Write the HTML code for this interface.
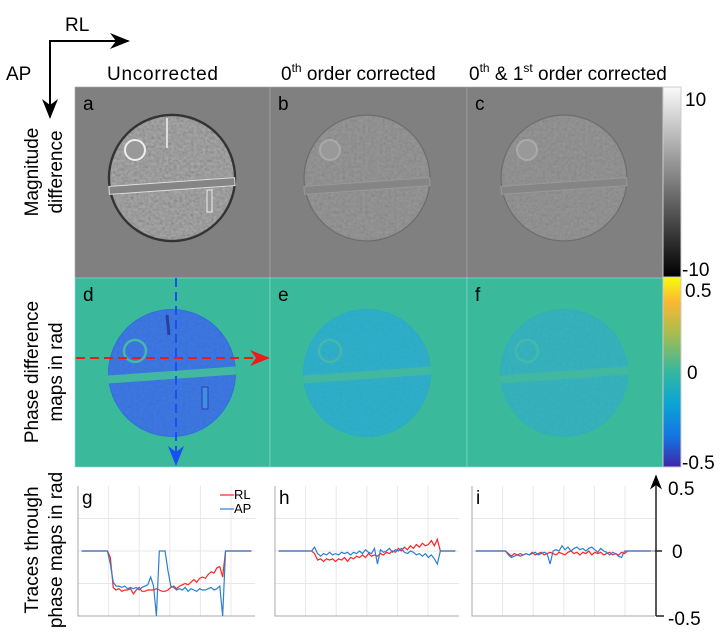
<!DOCTYPE html>
<html><head><meta charset="utf-8">
<style>
body{margin:0;background:#fff;}
svg{display:block;font-family:"Liberation Sans",sans-serif;}
</style></head>
<body>
<svg id="fig" width="724" height="644" viewBox="0 0 724 644">
<defs>
<filter id="noise" x="0" y="0" width="100%" height="100%">
<feTurbulence type="fractalNoise" baseFrequency="0.35" numOctaves="2" seed="3" result="t"/>
<feColorMatrix type="saturate" values="0"/>
<feComponentTransfer><feFuncA type="linear" slope="0" intercept="0.35"/></feComponentTransfer>
<feComposite in2="SourceGraphic" operator="in"/>
</filter>
<linearGradient id="gray" x1="0" y1="0" x2="0" y2="1"><stop offset="0" stop-color="#fafafa"/><stop offset="1" stop-color="#000"/></linearGradient>
<linearGradient id="parula" x1="0" y1="0" x2="0" y2="1">
<stop offset="0" stop-color="#f9fb0e"/><stop offset="0.13" stop-color="#fbb832"/><stop offset="0.3" stop-color="#a6bd4f"/>
<stop offset="0.5" stop-color="#33b7a0"/><stop offset="0.67" stop-color="#0ca3d6"/><stop offset="0.85" stop-color="#1670e0"/><stop offset="1" stop-color="#3e26a8"/></linearGradient>
<marker id="ah" markerWidth="10" markerHeight="10" refX="9" refY="5" orient="auto"><path d="M0,1 L10,5 L0,9 L3,5 Z" fill="#000"/></marker>
<marker id="ahb" markerWidth="10" markerHeight="10" refX="9" refY="5" orient="auto"><path d="M0,1 L10,5 L0,9 L3,5 Z" fill="#1a4ff0"/></marker>
<marker id="ahr" markerWidth="10" markerHeight="10" refX="9" refY="5" orient="auto"><path d="M0,1 L10,5 L0,9 L3,5 Z" fill="#f01a1a"/></marker>
</defs>

<text x="65" y="31" font-size="19">RL</text>
<text x="6" y="80" font-size="19">AP</text>
<polyline points="50,115 50,41 126,41" fill="none" stroke="#000" stroke-width="2"/>
<line x1="50" y1="41" x2="128" y2="41" stroke="#000" stroke-width="2" marker-end="url(#ah)"/>
<line x1="50" y1="41" x2="50" y2="117" stroke="#000" stroke-width="2" marker-end="url(#ah)"/>

<text x="107" y="80" font-size="19" textLength="111">Uncorrected</text>
<text x="281" y="80" font-size="19">0<tspan font-size="12" dy="-8">th</tspan><tspan dy="8"> order corrected</tspan></text>
<text x="469" y="80" font-size="19">0<tspan font-size="12" dy="-8">th</tspan><tspan dy="8"> &amp; 1</tspan><tspan font-size="12" dy="-8">st</tspan><tspan dy="8"> order corrected</tspan></text>

<text transform="translate(38,172) rotate(-90)" text-anchor="middle" font-size="19"><tspan x="0" y="0">Magnitude</tspan><tspan x="0" y="24">difference</tspan></text>
<text transform="translate(38,372) rotate(-90)" text-anchor="middle" font-size="19"><tspan x="0" y="0">Phase difference</tspan><tspan x="0" y="24">maps in rad</tspan></text>
<text transform="translate(38,550) rotate(-90)" text-anchor="middle" font-size="19"><tspan x="0" y="0">Traces through</tspan><tspan x="0" y="24">phase maps in rad</tspan></text>

<g id="panels"></g>

<rect x="663" y="87" width="18" height="190" fill="url(#gray)" stroke="#ccc"/>
<rect x="663" y="277" width="18" height="190" fill="url(#parula)" stroke="#ccc"/>
<text x="685" y="106" font-size="19">10</text>
<text x="682" y="276" font-size="19">-10</text>
<text x="685" y="297" font-size="19">0.5</text>
<text x="687" y="379" font-size="19">0</text>
<text x="682" y="469" font-size="19">-0.5</text>

<line x1="656" y1="616" x2="656" y2="476" stroke="#222" stroke-width="1.5" marker-end="url(#ah)"/>
<line x1="656" y1="616" x2="664" y2="616" stroke="#222" stroke-width="1.5"/>
<line x1="652" y1="551" x2="662" y2="551" stroke="#222" stroke-width="1.5"/>
<text x="668" y="495" font-size="19">0.5</text>
<text x="672" y="558" font-size="19">0</text>
<text x="668" y="625" font-size="19">-0.5</text>

<g id="traces"></g>
</svg>
<script>
const NS="http://www.w3.org/2000/svg";
function mk(tag,attrs,parent){const e=document.createElementNS(NS,tag);for(const k in attrs)e.setAttribute(k,attrs[k]);parent.appendChild(e);return e;}
const P=document.getElementById('panels');
const cols=[75,270,467];
const magLetters=['a','b','c'], phLetters=['d','e','f'];
const magContrast=[1,0.55,0.5];
const phDisk=['#2f6ee0','#27acc8','#2eb0bb'];
for(let i=0;i<3;i++){
  const x0=cols[i], w=(i==2?196:(i==0?195:197));
  const cx=x0+97, cy=178, r=63;
  let g=mk('g',{},P);
  
  
  mk('rect',{x:x0,y:87,width:w,height:191,fill:'#808080',stroke:'#aaa','stroke-width':0.6},g);
  const c=magContrast[i];
  mk('circle',{cx:cx,cy:cy,r:r,fill:i==0?'#8a8a8a':'#868686',stroke:i==0?'#333':'#6a6a6a','stroke-width':i==0?2.5:1},g);
  mk('circle',{cx:cx,cy:cy,r:r-1,fill:'#000',filter:'url(#noise)',opacity:c},g);
  mk('rect',{x:cx-63,y:cy+4,width:126,height:8,fill:'#858585',stroke:i==0?'#ddd':'#999','stroke-width':1,transform:`rotate(-4 ${cx} ${cy+8})`},g);
  mk('circle',{cx:cx-37,cy:cy-28,r:10,fill:'#999',stroke:i==0?'#eee':'#aaa','stroke-width':2},g);
  if(i==0){mk('rect',{x:cx+35,y:cy+12,width:5,height:22,fill:'#999',stroke:'#eee'},g);
  mk('line',{x1:cx-5,y1:cy-60,x2:cx-5,y2:cy-30,stroke:'#ddd','stroke-width':2},g);}
  mk('text',{x:x0+8,y:110,'font-size':19,fill:'#000'},g).textContent=magLetters[i];
  let h=mk('g',{},P);
  
  
  mk('rect',{x:x0,y:278,width:w,height:189,fill:'#3bb99b',stroke:'#8dd','stroke-width':0.6},h);
  const py=373;
  mk('circle',{cx:cx,cy:py,r:64,fill:phDisk[i]},h);
  mk('circle',{cx:cx,cy:py,r:63,fill:'#000',filter:'url(#noise)',opacity:i==0?0.25:0.15},h);
  mk('rect',{x:cx-64,y:py-2,width:128,height:8,fill:'#42b8a0',transform:`rotate(-4 ${cx} ${py+2})`},h);
  mk('circle',{cx:cx-37,cy:py-22,r:11,fill:'none',stroke:'#45b8a8','stroke-width':2.5},h);
  if(i==0){mk('rect',{x:cx+30,y:py+14,width:6,height:22,fill:'#3f8ee0',stroke:'#2a3fb0'},h);
  mk('line',{x1:cx-5,y1:py-58,x2:cx-3,y2:py-38,stroke:'#2a3fa0','stroke-width':3},h);}
  mk('text',{x:x0+8,y:301,'font-size':19,fill:'#000'},h).textContent=phLetters[i];
}
let da=mk('line',{x1:176,y1:278,x2:176,y2:464,stroke:'#1a4ff0','stroke-width':2,'stroke-dasharray':'9,5','marker-end':'url(#ahb)'},P);


let dr=mk('line',{x1:76,y1:358,x2:268,y2:358,stroke:'#f01a1a','stroke-width':2,'stroke-dasharray':'9,5','marker-end':'url(#ahr)'},P);


</script>
<script>
const gRL=[0,0,0,0,0,0,0,0,0,0,-0.05,-0.28,-0.3,-0.29,-0.31,-0.3,-0.3,-0.29,-0.33,-0.3,-0.28,-0.31,-0.31,-0.3,-0.3,-0.3,-0.29,-0.3,-0.31,-0.31,-0.3,-0.28,-0.27,-0.29,-0.27,-0.26,-0.25,-0.26,-0.24,-0.22,-0.24,-0.21,-0.2,-0.21,-0.18,-0.16,-0.17,-0.13,-0.12,-0.2,0,0,0,0,0,0,0,0,0,0];
const gAP=[0,0,0,0,0,0,0,0,0,0,-0.1,-0.24,-0.27,-0.27,-0.28,-0.27,-0.29,-0.28,-0.29,-0.28,-0.3,-0.28,-0.27,-0.26,-0.2,-0.27,-0.5,0,0,0,-0.15,-0.27,-0.28,-0.3,-0.29,-0.3,-0.28,-0.31,-0.29,-0.3,-0.31,-0.29,-0.3,-0.3,-0.29,-0.28,-0.3,-0.29,-0.27,-0.5,0,0,0,0,0,0,0,0,0,0];
const hRL=[0,0,0,0,0,0,0,0,0,0,0,0,-0.02,-0.07,-0.06,-0.08,-0.06,-0.07,-0.06,-0.08,-0.06,-0.07,-0.05,-0.08,-0.05,-0.06,-0.04,-0.05,-0.03,-0.05,-0.02,-0.04,-0.03,-0.04,-0.02,-0.03,-0.01,-0.02,0,-0.01,0.02,0,0.03,0.01,0.04,0.02,0.05,0.03,0.06,0.04,0.05,0.08,0.04,0.09,0,0,0,0,0,0];
const hAP=[0,0,0,0,0,0,0,0,0,0,0,0,0.03,-0.02,-0.04,-0.02,-0.03,-0.01,-0.03,-0.02,-0.03,-0.01,-0.02,-0.01,-0.03,-0.01,-0.02,0,-0.02,0.01,-0.01,-0.02,0.02,-0.1,0.01,-0.01,0,0.02,-0.01,0.01,0,0.02,-0.01,-0.02,0,-0.01,-0.03,-0.02,-0.04,-0.02,-0.05,-0.03,-0.06,-0.1,0,0,0,0,0,0];
const iRL=[0,0,0,0,0,0,0,0,0,0,0,-0.02,-0.04,-0.02,-0.03,-0.02,-0.03,-0.02,-0.03,-0.01,-0.03,-0.02,-0.01,-0.03,-0.02,-0.01,-0.02,-0.03,-0.01,-0.02,-0.03,-0.01,0,-0.02,-0.01,-0.03,-0.01,-0.02,0,-0.03,-0.01,-0.02,-0.01,-0.03,-0.02,-0.01,-0.03,-0.02,-0.03,-0.01,-0.02,0,0,0,0,0,0,0,0,0];
const iAP=[0,0,0,0,0,0,0,0,0,0,0,-0.03,-0.05,-0.04,-0.03,-0.04,-0.03,-0.02,-0.03,-0.02,-0.01,-0.03,-0.02,-0.01,-0.02,-0.1,0,0.01,0,0.04,0.01,0.03,0,0.02,0.03,0.01,0.02,0,0.02,0.03,0.01,-0.01,0.02,0,-0.01,-0.03,-0.01,-0.02,-0.04,-0.05,0,0,0,0,0,0,0,0,0,0];
const yTicks=[-0.5,-0.25,0,0.25,0.5];
const plots=[{n:'g',x0:78,x1:255,rl:gRL,ap:gAP,legend:true},{n:'h',x0:275,x1:459,rl:hRL,ap:hAP},{n:'i',x0:472,x1:655,rl:iRL,ap:iAP}];
const T=document.getElementById('traces');
const yTop=486,yBot=616;
function ys(v){return yBot-(v+0.5)/1*(yBot-yTop);}
plots.forEach(p=>{
  const g=mk('g',{},T);
  
  
  const w=p.x1-p.x0;
  const xs=i=>p.x0+w*(0.02+0.96*i/59);
  for(let k=1;k<6;k++){const gx=p.x0+k*30.6;if(gx<p.x1)mk('line',{x1:gx,y1:yTop,x2:gx,y2:yBot,stroke:'#e8e8e8'},g);}
  yTicks.forEach(t=>{if(t>-0.5&&t<0.5)mk('line',{x1:p.x0,y1:ys(t),x2:p.x1,y2:ys(t),stroke:'#e8e8e8'},g);});
  mk('polyline',{points:`${p.x0},${yTop} ${p.x0},${yBot} ${p.x1},${yBot}`,fill:'none',stroke:'#aaa'},g);
  const rl=mk('polyline',{points:p.rl.map((v,i)=>xs(i)+','+ys(v)).join(' '),fill:'none',stroke:'#f22','stroke-width':1.2},g);
  
  
  const ap=mk('polyline',{points:p.ap.map((v,i)=>xs(i)+','+ys(v)).join(' '),fill:'none',stroke:'#2a7fd0','stroke-width':1.2},g);
  
  
  const lab=mk('text',{x:p.x0+4,y:504,'font-size':19},g);lab.textContent=p.n;
  
  
  if(p.legend){
    const L=mk('g',{},g);
    
    
    mk('line',{x1:220,y1:495,x2:234,y2:495,stroke:'#f22','stroke-width':1.2},L);
    mk('text',{x:234,y:499,'font-size':13},L).textContent='RL';
    mk('line',{x1:220,y1:509,x2:234,y2:509,stroke:'#2a7fd0','stroke-width':1.2},L);
    mk('text',{x:234,y:513,'font-size':13},L).textContent='AP';
  }
});
</script>
</body></html>
